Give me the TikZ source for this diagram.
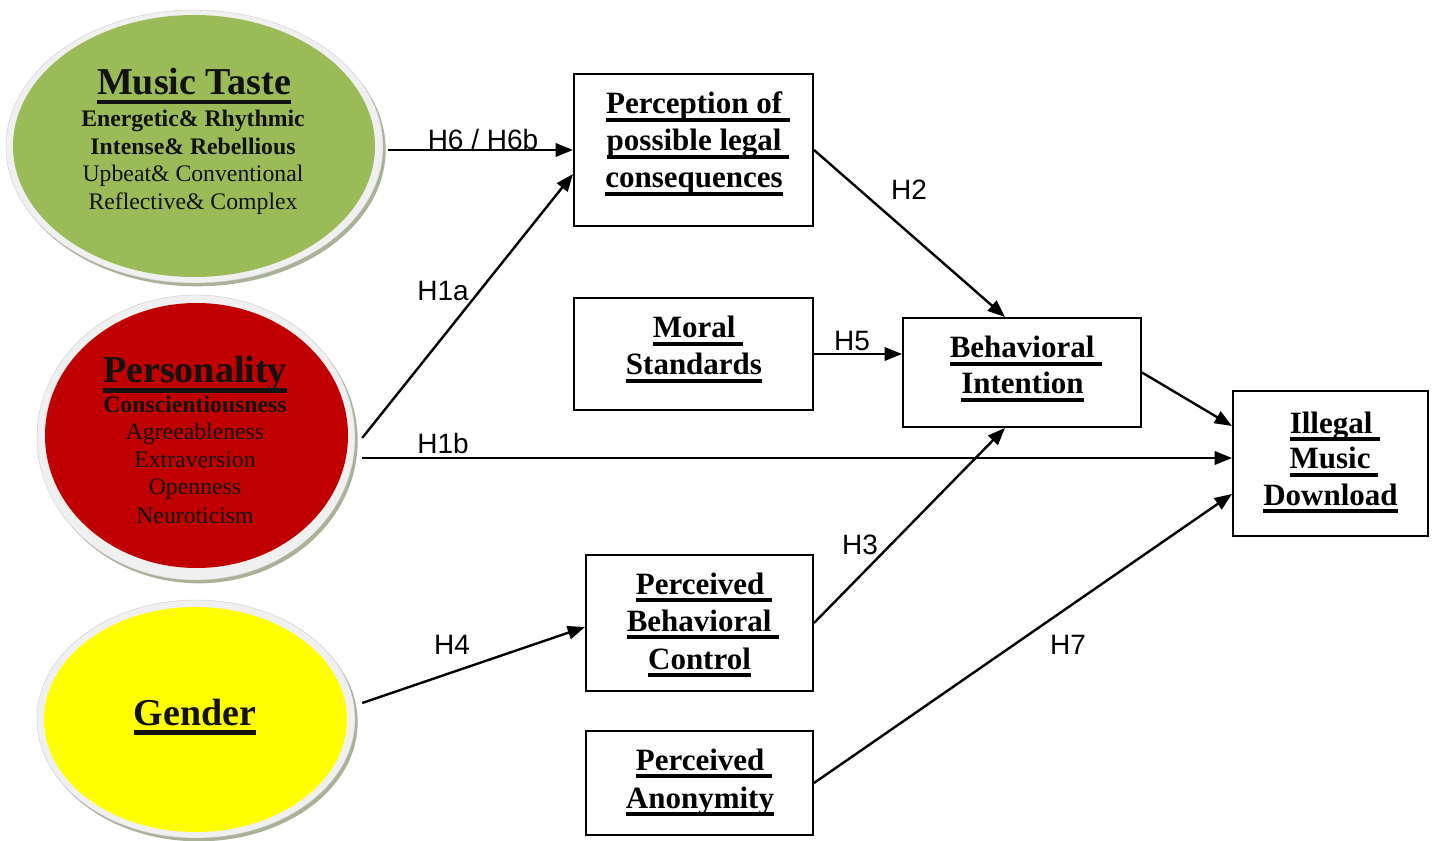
\documentclass[tikz,border=0pt]{standalone}
\usepackage{fontspec}
\setmainfont{Liberation Serif}
\newfontfamily\lsans{Liberation Sans}
\usetikzlibrary{shapes.geometric,arrows.meta,calc,shadows}
\definecolor{mtgreen}{HTML}{9BBB59}
\definecolor{pred}{HTML}{C00000}
\definecolor{gyellow}{HTML}{FFFF00}
\definecolor{ringgray}{HTML}{F0F0F0}
\definecolor{shadecol}{HTML}{A9B196}
\newcommand\uline[1]{\setbox0\hbox{#1}\rlap{\rule[-0.25em]{\wd0}{0.11em}}\box0}
\begin{document}
\begin{tikzpicture}[x=0.75pt,y=-0.75pt,
  ringnode/.style={ellipse, fill=ringgray, draw=ringgray!85!black, line width=0.3pt, inner sep=0pt,
    drop shadow={shadow xshift=2pt, shadow yshift=-2.5pt, fill=shadecol, opacity=1}},
  core/.style={ellipse, inner sep=0pt, draw=none},
  boxnode/.style={draw=black, line width=1.5pt, inner sep=0pt, fill=white},
  bt/.style={anchor=base, inner sep=0pt, font=\fontsize{23.25}{28}\selectfont\bfseries},
  tt/.style={anchor=base, inner sep=0pt, font=\fontsize{28.5}{32}\selectfont\bfseries, text=black!93},
  st/.style={anchor=base, inner sep=0pt, font=\fontsize{17.8}{20}\selectfont, text=black!93},
  sb/.style={st, font=\fontsize{17.8}{20}\selectfont\bfseries},
  hl/.style={inner sep=0pt, font=\lsans\fontsize{21}{25}\selectfont},
  arr/.style={line width=1.8pt, -{Triangle[length=13pt,width=10pt]}}]
\useasboundingbox (0,0) rectangle (1435,841);

% ellipses
\node[ringnode, minimum width=377*0.75pt, minimum height=273*0.75pt] (mtO) at (194.5,146.5) {};
\node[core, fill=mtgreen, minimum width=362*0.75pt, minimum height=262*0.75pt] (mt) at (194,146) {};
\node[ringnode, minimum width=318*0.75pt, minimum height=285*0.75pt] (peO) at (196,437.5) {};
\node[core, fill=pred, minimum width=303*0.75pt, minimum height=265*0.75pt] (pe) at (196.5,435.5) {};
\node[ringnode, minimum width=318*0.75pt, minimum height=238*0.75pt] (geO) at (196,719) {};
\node[core, fill=gyellow, minimum width=303*0.75pt, minimum height=225*0.75pt] (ge) at (195.5,719.5) {};

% ellipse texts
\node[tt] (mt1) at (194,95) {\uline{Music Taste}};
\node[sb] (mt2) at (193,127) {Energetic\& Rhythmic};
\node[sb] (mt3) at (193,155) {Intense\& Rebellious};
\node[st] (mt4) at (193,182) {Upbeat\& Conventional};
\node[st] (mt5) at (193,210) {Reflective\& Complex};

\node[tt] (pe1) at (195,383) {\uline{Personality}};
\node[sb] (pe2) at (195,413) {Conscientiousness};
\node[st] (pe3) at (195,440) {Agreeableness};
\node[st] (pe4) at (195,467) {Extraversion};
\node[st] (pe5) at (195,494) {Openness};
\node[st] (pe6) at (195,523) {Neuroticism};

\node[tt] (ge1) at (195,725) {\uline{Gender}};

% boxes
\node[boxnode, minimum width=239*0.75pt, minimum height=152*0.75pt] (pc) at (693.5,150) {};
\node[boxnode, minimum width=239*0.75pt, minimum height=112*0.75pt] (ms) at (693.5,354) {};
\node[boxnode, minimum width=238*0.75pt, minimum height=109*0.75pt] (bi) at (1022,372.5) {};
\node[boxnode, minimum width=195*0.75pt, minimum height=145*0.75pt] (imd) at (1330.5,463.5) {};
\node[boxnode, minimum width=227*0.75pt, minimum height=136*0.75pt] (pbc) at (699.5,623) {};
\node[boxnode, minimum width=227*0.75pt, minimum height=104*0.75pt] (pa) at (699.5,783) {};

% box texts
\node[bt] (pc1) at (698,114) {\uline{Perception of\ }};
\node[bt] (pc2) at (698,151) {\uline{possible legal\ }};
\node[bt] (pc3) at (694,188) {\uline{consequences}};
\node[bt] (ms1) at (698,338) {\uline{Moral\ }};
\node[bt] (ms2) at (694,375) {\uline{Standards}};
\node[bt] (bi1) at (1026,358) {\uline{Behavioral\ }};
\node[bt] (bi2) at (1022.5,394) {\uline{Intention}};
\node[bt] (imd1) at (1335,433) {\uline{Illegal\ }};
\node[bt] (imd2) at (1334,469) {\uline{Music\ }};
\node[bt] (imd3) at (1330.5,505) {\uline{Download}};
\node[bt] (pbc1) at (704,594) {\uline{Perceived\ }};
\node[bt] (pbc2) at (703,631) {\uline{Behavioral\ }};
\node[bt] (pbc3) at (699.5,669) {\uline{Control}};
\node[bt] (pa1) at (704,770) {\uline{Perceived\ }};
\node[bt] (pa2) at (700,808) {\uline{Anonymity}};

% connector start points
\coordinate (s6) at ($(mtO.east)+(5,3.5)$);
\coordinate (s1a) at ($(peO.east)+(7,0.5)$);
\coordinate (s1b) at ($(peO.east)+(7,20.5)$);
\coordinate (s4) at ($(geO.east)+(7,-16)$);

% connectors
\draw[arr] (s6) -- (pc.west);
\draw[arr] (s1a) -- ($(pc.west)+(0,24)$);
\draw[arr] (s1b) -- (s1b -| imd.west);
\draw[arr] (pc.east) -- ($(bi.north)+(-17,0)$);
\draw[arr] (ms.east) -- (ms.east -| bi.west);
\draw[arr] (pbc.east) -- ($(bi.south)+(-17,0)$);
\draw[arr] (s4) -- ($(pbc.west)+(0,4)$);
\draw[arr] (bi.east) -- ($(imd.west)+(0,-37.5)$);
\draw[arr] (pa.east) -- ($(imd.west)+(0,30.5)$);

% labels
\node[hl] (lH6) at (483,139) {H6 / H6b};
\node[hl] (lH1a) at (443,291) {H1a};
\node[hl] (lH1b) at (443,443) {H1b};
\node[hl] (lH2) at (909,190) {H2};
\node[hl] (lH5) at (852,341) {H5};
\node[hl] (lH3) at (860,545) {H3};
\node[hl] (lH4) at (452,645) {H4};
\node[hl] (lH7) at (1068,645) {H7};
\end{tikzpicture}
\end{document}
